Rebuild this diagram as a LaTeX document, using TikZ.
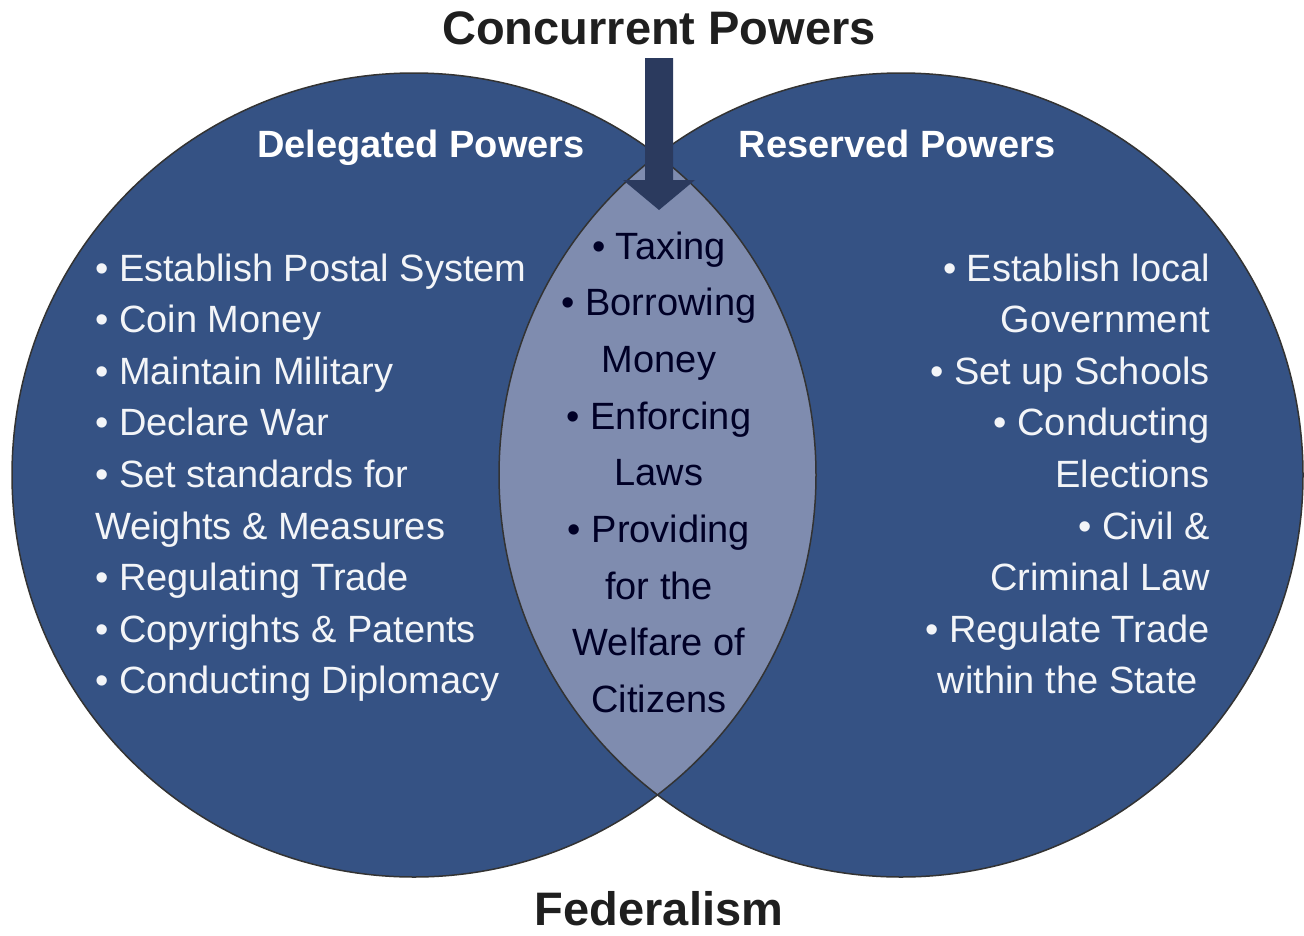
\documentclass[tikz,border=0pt]{standalone}
\usepackage{fontspec}
\setmainfont{Liberation Sans}
\definecolor{circblue}{HTML}{355284}
\definecolor{lensblue}{HTML}{7F8CAF}
\definecolor{arrownavy}{HTML}{2B3A5E}
\definecolor{rimgray}{HTML}{333333}
\tikzset{
  rim/.style={rimgray, line width=1.5pt},
  powerhead/.style={text=white, font=\fontsize{38}{46}\selectfont\bfseries, inner sep=0pt, anchor=base},
  leftitem/.style={text=white!94!circblue, font=\fontsize{38}{46}\selectfont, inner sep=0pt, anchor=base west},
  rightitem/.style={leftitem, anchor=base east},
  lensitem/.style={text=black!85!blue, font=\fontsize{38}{46}\selectfont, inner sep=0pt, anchor=base},
  bigtitle/.style={text=black!88, font=\fontsize{47}{54}\selectfont\bfseries, inner sep=0pt, anchor=base}
}
\begin{document}
\begin{tikzpicture}[x=1pt,y=-1pt]
\useasboundingbox (0,0) rectangle (1304,935);
\coordinate (lc) at (414,475);
\coordinate (rc) at (901,475);
% the two circles and the overlap
\fill[circblue] (lc) circle[radius=402pt];
\fill[circblue] (rc) circle[radius=402pt];
\begin{scope}
  \clip (lc) circle[radius=402pt];
  \fill[lensblue] (rc) circle[radius=402pt];
\end{scope}
\draw[rim] (lc) circle[radius=402pt];
\draw[rim] (rc) circle[radius=402pt];
% block arrow into the overlap
\fill[arrownavy] (645,58) -- (673,58) -- (673,180) -- (695,180) -- (659,210) -- (623,180) -- (645,180) -- cycle;
% titles
\node[bigtitle] (conc) at (659,44) {Concurrent Powers};
\node[bigtitle] (fed) at (659,925) {Federalism};
\node[powerhead] (deleg) at (421,157) {Delegated Powers};
\node[powerhead] (resv) at (897,157) {Reserved Powers};
% lists
\foreach \txt [count=\i from 0] in {• Establish Postal System, • Coin Money, • Maintain Military, • Declare War, • Set standards for, Weights \& Measures, • Regulating Trade, • Copyrights \& Patents, • Conducting Diplomacy}
  \node[leftitem] (delegitem\i) at (95,{281+51.6*\i}) {\txt};
\foreach \txt [count=\i from 0] in {• Taxing, • Borrowing, Money, • Enforcing, Laws, • Providing, for the, Welfare of, Citizens}
  \node[lensitem] (concitem\i) at (659,{259+56.7*\i}) {\txt};
\foreach \txt [count=\i from 0] in {• Establish local, Government, • Set up Schools, • Conducting, Elections, • Civil \&, Criminal Law, • Regulate Trade, within the State\hspace*{12pt}}
  \node[rightitem] (resvitem\i) at (1210,{281+51.6*\i}) {\txt};
\end{tikzpicture}
\end{document}
